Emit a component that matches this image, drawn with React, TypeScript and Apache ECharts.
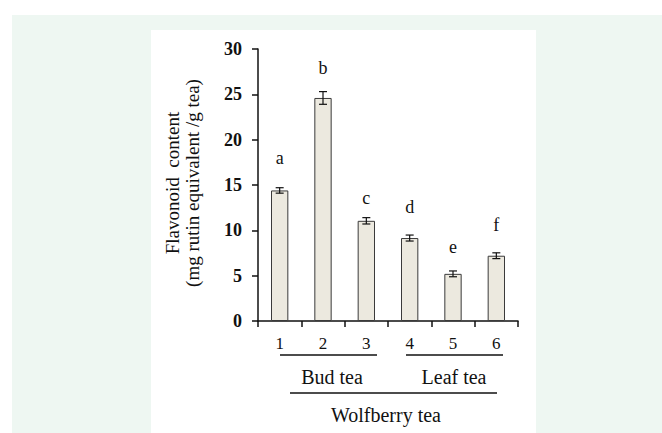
import React, { useEffect, useRef } from "react";
import * as echarts from "echarts";

const categories = ["1", "2", "3", "4", "5", "6"];
const values = [14.4, 24.6, 11.05, 9.15, 5.2, 7.2];
const errors = [0.3, 0.7, 0.35, 0.33, 0.32, 0.32];
const letters = ["a", "b", "c", "d", "e", "f"];
const letterValues = [18.0, 27.9, 13.6, 12.6, 8.2, 10.6];
const yMin = 0;
const yMax = 30;
const yInterval = 5;
const groupLabels = ["Bud tea", "Leaf tea", "Wolfberry tea"];
const yTitle = ["Flavonoid  content", "(mg rutin equivalent /g tea)"];

const SERIF = "'Liberation Serif', 'Times New Roman', serif";

export default function App() {
  const ref = useRef<HTMLDivElement>(null);
  useEffect(() => {
    if (!ref.current) return;
    const chart = echarts.init(ref.current, undefined, { renderer: "svg" });
    const errData = values.map((v, i) => [i, v - errors[i], v + errors[i]]);
    const letterData = letterValues.map((v, i) => [i, v, letters[i]]);
    chart.setOption({
      animation: false,
      backgroundColor: "transparent",
      grid: { left: 258, right: 144, top: 49, bottom: 112, containLabel: false },
      xAxis: {
        type: "category",
        data: categories,
        axisLine: { show: true, lineStyle: { color: "#111", width: 1.5 } },
        axisTick: { show: true, length: 6, inside: false, alignWithLabel: false, lineStyle: { color: "#111", width: 1.5 } },
        axisLabel: { color: "#111", fontFamily: SERIF, fontSize: 17, margin: 14 },
        splitLine: { show: false },
      },
      yAxis: {
        type: "value",
        min: yMin,
        max: yMax,
        interval: yInterval,
        axisLine: { show: true, lineStyle: { color: "#111", width: 1.5 } },
        axisTick: { show: true, length: 6, inside: false, lineStyle: { color: "#111", width: 1.5 } },
        axisLabel: { color: "#111", fontFamily: SERIF, fontSize: 18, fontWeight: "bold", margin: 16 },
        splitLine: { show: false },
      },
      series: [
        {
          type: "bar",
          data: values,
          barWidth: "40%",
          itemStyle: { color: "#ece9df", borderColor: "#3a3a3a", borderWidth: 1 },
          z: 2,
        },
        {
          type: "custom",
          data: errData,
          z: 3,
          renderItem: (params: any, api: any) => {
            const x = api.value(0);
            const lo = api.coord([x, api.value(1)]);
            const hi = api.coord([x, api.value(2)]);
            const w = 4;
            const style = { stroke: "#111", lineWidth: 1.2 };
            return {
              type: "group",
              children: [
                { type: "line", shape: { x1: lo[0], y1: lo[1], x2: hi[0], y2: hi[1] }, style },
                { type: "line", shape: { x1: lo[0] - w, y1: lo[1], x2: lo[0] + w, y2: lo[1] }, style },
                { type: "line", shape: { x1: hi[0] - w, y1: hi[1], x2: hi[0] + w, y2: hi[1] }, style },
              ],
            };
          },
        },
        {
          type: "custom",
          data: letterData,
          z: 4,
          renderItem: (params: any, api: any) => {
            const p = api.coord([api.value(0), api.value(1)]);
            return {
              type: "text",
              x: p[0],
              y: p[1],
              style: {
                text: letters[params.dataIndex],
                fontFamily: SERIF,
                fontSize: 18,
                fill: "#111",
                align: "center",
                verticalAlign: "middle",
              },
            };
          },
        },
      ],
      graphic: [
        {
          type: "text",
          x: 182,
          y: 183,
          rotation: Math.PI / 2,
          style: {
            text: yTitle.join("\n"),
            fontFamily: SERIF,
            fontSize: 19,
            lineHeight: 20,
            fill: "#111",
            align: "center",
            verticalAlign: "middle",
          },
        },
        { type: "line", shape: { x1: 280, y1: 355, x2: 377, y2: 355 }, style: { stroke: "#111", lineWidth: 1.5 } },
        { type: "line", shape: { x1: 406, y1: 355, x2: 503, y2: 355 }, style: { stroke: "#111", lineWidth: 1.5 } },
        { type: "line", shape: { x1: 290, y1: 393, x2: 497, y2: 393 }, style: { stroke: "#111", lineWidth: 1.5 } },
        {
          type: "text",
          x: 332,
          y: 377,
          style: { text: groupLabels[0], fontFamily: SERIF, fontSize: 20, fill: "#111", align: "center", verticalAlign: "middle" },
        },
        {
          type: "text",
          x: 454,
          y: 377,
          style: { text: groupLabels[1], fontFamily: SERIF, fontSize: 20, fill: "#111", align: "center", verticalAlign: "middle" },
        },
        {
          type: "text",
          x: 386,
          y: 415,
          style: { text: groupLabels[2], fontFamily: SERIF, fontSize: 20, fill: "#111", align: "center", verticalAlign: "middle" },
        },
      ],
    });
    return () => chart.dispose();
  }, []);

  return (
    <div style={{ position: "absolute", left: 0, top: 0, width: 662, height: 433, background: "#ffffff", overflow: "hidden" }}>
      <div style={{ position: "absolute", left: 12, top: 15, width: 650, height: 418, background: "#eef7f2" }} />
      <div style={{ position: "absolute", left: 151, top: 30, width: 385, height: 403, background: "#ffffff" }} />
      <div ref={ref} style={{ position: "absolute", left: 0, top: 0, width: 662, height: 433 }} />
    </div>
  );
}
